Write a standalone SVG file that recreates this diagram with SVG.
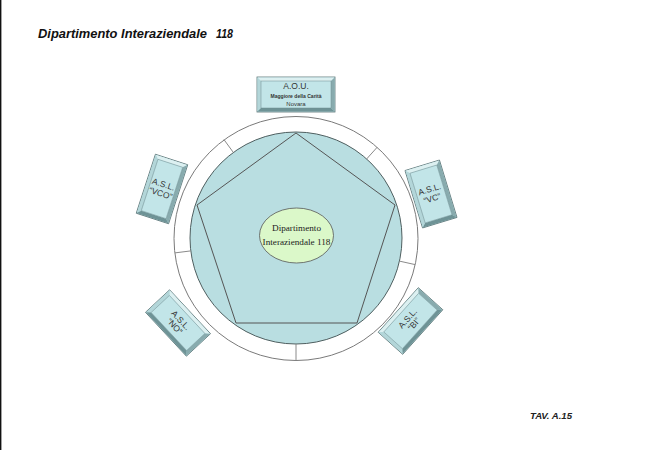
<svg xmlns="http://www.w3.org/2000/svg" width="659" height="450" viewBox="0 0 659 450">
<style>
.frame{fill:#c2e5e8;stroke:#5b7476;stroke-width:0.8}
.ft{fill:#dcf0f1;stroke:none}
.fl{fill:#b3d6d9;stroke:none}
.fr{fill:#88abae;stroke:none}
.fb{fill:#6e9396;stroke:none}
.face{fill:#c2e5e8;stroke:#6f8d90;stroke-width:0.5}
.bt{font-family:"Liberation Sans",Arial,sans-serif;fill:#333;text-anchor:middle}
.div{stroke:#8a8a8a;stroke-width:1;fill:none}
</style>
<rect x="0" y="0" width="659" height="450" fill="#ffffff"/>
<line x1="0.7" y1="0" x2="0.7" y2="450" stroke="#111" stroke-width="1.4"/>

<g id="title">
<text x="38" y="38" font-family="'Liberation Sans',Arial,sans-serif" font-style="italic" font-weight="bold" font-size="12.5" fill="#111" textLength="169" lengthAdjust="spacingAndGlyphs">Dipartimento Interaziendale</text>
<text x="216" y="38" font-family="'Liberation Sans',Arial,sans-serif" font-style="italic" font-weight="bold" font-size="12.5" fill="#111" textLength="17" lengthAdjust="spacingAndGlyphs">118</text>
</g>

<g id="ring">
<circle cx="296" cy="238.5" r="122" fill="#ffffff" stroke="#7a7a7a" stroke-width="1"/>
<circle cx="296" cy="238" r="106" fill="#b9dee1" stroke="#4f5f60" stroke-width="1"/>
</g>

<g id="connectors">
<line class="div" x1="296" y1="344" x2="296" y2="360.5"/>
<line class="div" x1="190.8" y1="250.9" x2="174.9" y2="252.9"/>
<line class="div" x1="399.4" y1="261.1" x2="415.1" y2="264.6"/>
<line class="div" x1="233.4" y1="152.5" x2="223.9" y2="139.5"/>
<line class="div" x1="366.6" y1="159" x2="377.3" y2="147.1"/>
<polygon points="296,133 395,205 357,323 236,323 197,205" fill="none" stroke="#555" stroke-width="1"/>
</g>

<g id="centro">
<ellipse cx="296.5" cy="235.5" rx="37" ry="27.5" fill="#dbf8c9" stroke="#555" stroke-width="0.8"/>
<text x="296.5" y="231" font-family="'Liberation Serif','Times New Roman',serif" font-size="9.2" fill="#222" text-anchor="middle">Dipartimento</text>
<text x="296.5" y="245" font-family="'Liberation Serif','Times New Roman',serif" font-size="9.2" fill="#222" text-anchor="middle">Interaziendale 118</text>
</g>

<g id="aou" transform="translate(296,94.5)">
<rect class="frame" x="-39" y="-17.5" width="78" height="35"/>
<polygon class="ft" points="-38.6,-17.1 38.6,-17.1 35,-13.5 -35,-13.5"/>
<polygon class="fl" points="-38.6,-17.1 -35,-13.5 -35,13.5 -38.6,17.1"/>
<polygon class="fr" points="38.6,-17.1 38.6,17.1 35,13.5 35,-13.5"/>
<polygon class="fb" points="-38.6,17.1 38.6,17.1 35,13.5 -35,13.5"/>
<rect class="face" x="-35" y="-13.5" width="70" height="27"/>
<text class="bt" x="0" y="-5.5" font-size="8.5">A.O.U.</text>
<text class="bt" x="0" y="3.5" font-size="5.2" font-weight="bold" textLength="51" lengthAdjust="spacingAndGlyphs">Maggiore della Carità</text>
<text class="bt" x="0" y="11" font-size="6">Novara</text>
</g>

<g id="asl-vco" transform="translate(162,189) rotate(18)">
<rect class="frame" x="-17" y="-31" width="34" height="62"/>
<polygon class="ft" points="-16.6,-30.6 16.6,-30.6 13,-27 -13,-27"/>
<polygon class="fl" points="-16.6,-30.6 -13,-27 -13,27 -16.6,30.6"/>
<polygon class="fr" points="16.6,-30.6 16.6,30.6 13,27 13,-27"/>
<polygon class="fb" points="-16.6,30.6 16.6,30.6 13,27 -13,27"/>
<rect class="face" x="-13" y="-27" width="26" height="54"/>
<text class="bt" x="0" y="-2" font-size="8.5">A.S.L.</text>
<text class="bt" x="0" y="7.5" font-size="8.5">“VCO”</text>
</g>

<g id="asl-vc" transform="translate(431,194) rotate(-17)">
<rect class="frame" x="-18" y="-30" width="36" height="60"/>
<polygon class="ft" points="-17.6,-29.6 17.6,-29.6 14,-26 -14,-26"/>
<polygon class="fl" points="-17.6,-29.6 -14,-26 -14,26 -17.6,29.6"/>
<polygon class="fr" points="17.6,-29.6 17.6,29.6 14,26 14,-26"/>
<polygon class="fb" points="-17.6,29.6 17.6,29.6 14,26 -14,26"/>
<rect class="face" x="-14" y="-26" width="28" height="52"/>
<text class="bt" x="0" y="-2" font-size="8.5">A.S.L.</text>
<text class="bt" x="0" y="7.5" font-size="8.5">“VC”</text>
</g>

<g id="asl-no" transform="translate(178,323) rotate(47)">
<rect class="frame" x="-30" y="-16.5" width="60" height="33"/>
<polygon class="ft" points="-29.6,-16.1 29.6,-16.1 26,-12.5 -26,-12.5"/>
<polygon class="fl" points="-29.6,-16.1 -26,-12.5 -26,12.5 -29.6,16.1"/>
<polygon class="fr" points="29.6,-16.1 29.6,16.1 26,12.5 26,-12.5"/>
<polygon class="fb" points="-29.6,16.1 29.6,16.1 26,12.5 -26,12.5"/>
<rect class="face" x="-26" y="-12.5" width="52" height="25"/>
<text class="bt" x="0" y="-1" font-size="8.5">A.S.L.</text>
<text class="bt" x="0" y="7.5" font-size="8.5">“NO”</text>
</g>

<g id="asl-bi" transform="translate(410.5,321) rotate(-48)">
<rect class="frame" x="-30" y="-16.5" width="60" height="33"/>
<polygon class="ft" points="-29.6,-16.1 29.6,-16.1 26,-12.5 -26,-12.5"/>
<polygon class="fl" points="-29.6,-16.1 -26,-12.5 -26,12.5 -29.6,16.1"/>
<polygon class="fr" points="29.6,-16.1 29.6,16.1 26,12.5 26,-12.5"/>
<polygon class="fb" points="-29.6,16.1 29.6,16.1 26,12.5 -26,12.5"/>
<rect class="face" x="-26" y="-12.5" width="52" height="25"/>
<text class="bt" x="0" y="-1" font-size="8.5">A.S.L.</text>
<text class="bt" x="0" y="7.5" font-size="8.5">“BI”</text>
</g>

<g id="tav">
<text x="530" y="419" font-family="'Liberation Sans',Arial,sans-serif" font-style="italic" font-weight="bold" font-size="8.5" fill="#222" textLength="42" lengthAdjust="spacingAndGlyphs">TAV. A.15</text>
</g>
</svg>
